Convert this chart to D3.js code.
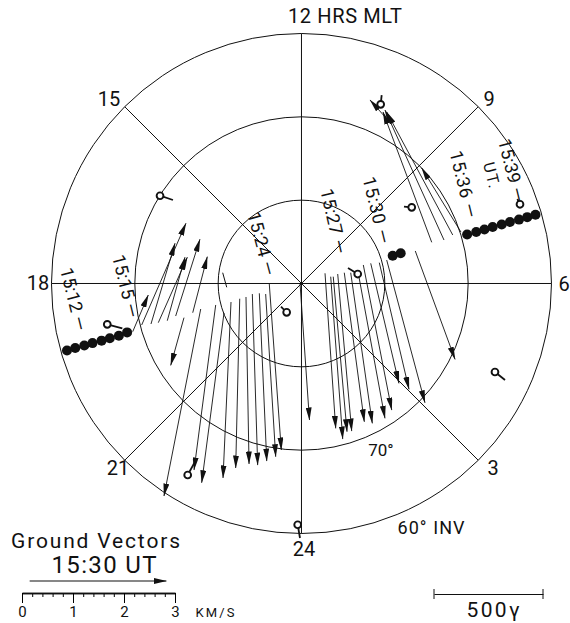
<!DOCTYPE html>
<html>
<head>
<meta charset="utf-8">
<script src="https://cdn.jsdelivr.net/npm/d3@7"></script>
<style>
  body { margin: 0; background: #fff; }
  text { font-family: Roboto, "Liberation Sans", sans-serif; font-weight: 400; fill: #111; }
</style>
</head>
<body>
<div id="d3"></div>
<script>
// all positions in degrees from the pole, x toward 6 MLT, y toward 12 MLT
const rings = [80, 70, 60];
const hours = [12, 15, 18, 21, 24, 3, 6, 9];

// tail x, tail y, tip x, tip y
const duskVectors = [
  [-12.06, -3.16, -16.52, -25.87],
  [-10.24, -2.67, -12.87, -22.71],
  [-9.23, -3.64, -11.94, -24.26],
  [-8.38, -2.31, -9.35, -23.68],
  [-7.32, -1.91, -7.81, -22.47],
  [-6.56, -1.7, -6.19, -21.98],
  [-5.79, -1.34, -5.14, -22.11],
  [-4.94, -1.25, -4.04, -21.62],
  [-4.17, -1.34, -2.95, -21.1],
  [-3.73, -0.12, -2.27, -20.28],
  [-14.09, -4.21, -15.7, -10.0],
  [-20.32, -5.92, -18.43, -1.46],
  [-19.23, -5.1, -13.85, 7.25],
  [-18.1, -4.98, -15.18, 4.82],
  [-17.21, -4.82, -13.69, 3.12],
  [-16.12, -4.58, -13.97, 3.12],
  [-15.1, -4.01, -12.15, 5.31],
  [-13.03, -3.61, -11.26, 3.19],
];

const dawnVectors = [
  [0, 0, 1.15, -16.64],
  [3.04, 1.18, 4.34, -17.65],
  [3.73, 0.77, 5.19, -18.95],
  [4.04, 0.77, 5.71, -18.06],
  [4.58, 1.09, 6.28, -17.98],
  [5.38, 1.25, 7.81, -16.85],
  [6.16, 1.25, 8.78, -17.04],
  [7.08, 1.18, 10.32, -16.43],
  [7.69, 2.19, 11.14, -15.43],
  [8.59, 2.39, 12.02, -12.18],
  [9.63, 2.47, 13.24, -12.91],
  [10.53, 2.79, 15.18, -14.54],
  [14.0, 3.89, 18.83, -9.27],
];

const morningVectors = [
  [16.0, 4.94, 10.08, 20.77],
  [17.49, 5.22, 10.32, 21.01],
  [18.55, 5.83, 10.53, 20.77],
  [19.55, 6.19, 14.78, 13.97],
  [10.45, 20.04, 8.5, 22.23],
];

// vector too small for a head
const shortVectors = [[-9.39, 1.25, -8.9, -0.52]];

// station x, station y, stick end x, stick end y
const stations = [
  [-17.0, 10.6, -15.43, 10.08],
  [-23.41, -5.02, -21.58, -5.5],
  [-1.62, -3.56, -2.31, -2.88],
  [-13.64, -23.32, -12.75, -21.7],
  [7.01, 1.09, 5.83, 1.82],
  [13.57, 9.19, 12.63, 9.27],
  [9.8, 21.7, 9.92, 22.83],
  [26.72, 9.56, 26.4, 10.2],
  [23.68, -10.81, 24.9, -11.78],
  [-0.28, -29.36, 0, -30.97],
];

const satelliteDusk = [
  [-28.3, -8.2], [-27.3, -7.9], [-26.2, -7.6], [-25.2, -7.3],
  [-24.1, -7.0], [-23.1, -6.7], [-22.0, -6.4], [-21.0, -6.0],
];
const satelliteNoon = [[11.26, 3.32], [12.23, 3.61]];
const satelliteDawn = [
  [20.3, 5.9], [21.4, 6.2], [22.4, 6.5], [23.4, 6.8], [24.5, 7.1],
  [25.5, 7.4], [26.6, 7.7], [27.6, 8.0], [28.6, 8.3],
];

const kmTicks = [0, 1, 2, 3];
const kmMinorTicks = d3.range(0, 3.01, 0.2);
const referenceArrow = [0.15, 2.83];

const chartWidth = 570;
const chartHeight = 623;

const svg = d3
  .select("#d3")
  .append("svg")
  .attr("width", chartWidth)
  .attr("height", chartHeight);

const x = d3.scaleLinear().domain([-30, 30]).range([53, 547]);
const y = d3.scaleLinear().domain([-30, 30]).range([530, 36]);
const rScale = d3.scaleLinear().domain([0, 30]).range([0, 250]);
const kmScale = d3.scaleLinear().domain([0, 3]).range([22, 175]);
const gammaScale = d3.scaleLinear().domain([0, 500]).range([434, 543]);

// the scanned grid sits slightly off the plotted origin
const poleX = x(0.18);
const poleY = y(-0.06);

const colat = (lat) => 90 - lat;
const hourAngle = (hour) => ((hour - 12) / 24) * 2 * Math.PI;

svg
  .append("defs")
  .append("marker")
  .attr("id", "head")
  .attr("markerUnits", "userSpaceOnUse")
  .attr("viewBox", "0 -3 13 6")
  .attr("refX", 12.5)
  .attr("refY", 0)
  .attr("markerWidth", 13)
  .attr("markerHeight", 6)
  .attr("orient", "auto")
  .append("path")
  .attr("d", "M0,-3L13,0L0,3Z")
  .attr("fill", "#111");

// rings
svg
  .selectAll("circle.ring")
  .data(rings)
  .enter()
  .append("circle")
  .attr("class", "ring")
  .attr("cx", poleX)
  .attr("cy", poleY)
  .attr("r", (d) => rScale(colat(d)))
  .attr("fill", "none")
  .attr("stroke", "#111")
  .attr("stroke-width", 1);

// spokes
svg
  .selectAll("line.spoke")
  .data(hours)
  .enter()
  .append("line")
  .attr("class", "spoke")
  .attr("x1", poleX)
  .attr("y1", poleY)
  .attr("x2", (d) => poleX - rScale(30) * Math.sin(hourAngle(d)))
  .attr("y2", (d) => poleY - rScale(30) * Math.cos(hourAngle(d)))
  .attr("stroke", "#111")
  .attr("stroke-width", 1);

// vectors
const allVectors = duskVectors.concat(dawnVectors, morningVectors);
svg
  .selectAll("line.vector")
  .data(allVectors)
  .enter()
  .append("line")
  .attr("class", "vector")
  .attr("x1", (d) => x(d[0]))
  .attr("y1", (d) => y(d[1]))
  .attr("x2", (d) => x(d[2]))
  .attr("y2", (d) => y(d[3]))
  .attr("stroke", "#111")
  .attr("stroke-width", 0.9)
  .attr("marker-end", "url(#head)");

svg
  .selectAll("line.short")
  .data(shortVectors)
  .enter()
  .append("line")
  .attr("class", "short")
  .attr("x1", (d) => x(d[0]))
  .attr("y1", (d) => y(d[1]))
  .attr("x2", (d) => x(d[2]))
  .attr("y2", (d) => y(d[3]))
  .attr("stroke", "#111");

// satellite track
svg
  .selectAll("circle.sat")
  .data(satelliteDusk.concat(satelliteNoon, satelliteDawn))
  .enter()
  .append("circle")
  .attr("class", "sat")
  .attr("cx", (d) => x(d[0]))
  .attr("cy", (d) => y(d[1]))
  .attr("r", 5)
  .attr("fill", "#111");

// ground stations
const station = svg.selectAll("g.station").data(stations).enter().append("g");
station
  .append("line")
  .attr("x1", (d) => x(d[0]))
  .attr("y1", (d) => y(d[1]))
  .attr("x2", (d) => x(d[2]))
  .attr("y2", (d) => y(d[3]))
  .attr("stroke", "#111")
  .attr("stroke-width", 1.8);
station
  .append("circle")
  .attr("cx", (d) => x(d[0]))
  .attr("cy", (d) => y(d[1]))
  .attr("r", 3.4)
  .attr("fill", "#fff")
  .attr("stroke", "#111")
  .attr("stroke-width", 1.9);

// labels
function label(txt, px, py, size, rotate, width) {
  const t = svg
    .append("text")
    .attr("x", px)
    .attr("y", py)
    .attr("font-size", size)
    .attr("text-anchor", "middle")
    .attr("dominant-baseline", "central")
    .text(txt);
  if (rotate) t.attr("transform", `rotate(${rotate} ${px} ${py})`);
  if (width) t.attr("textLength", width);
  return t;
}

label("12 HRS MLT", 345, 16, 20, 0, 114);
label("15", 109, 99, 20);
label("9", 489, 99, 20);
label("18", 38, 283, 20);
label("6", 564, 284, 20);
label("21", 118, 468, 20);
label("3", 493, 468, 20);
label("24", 304, 549, 20);
label("70°", 381, 450, 17);
label("60° INV", 431, 527, 18, 0, 67);

label("15:12 —", 74, 299, 18, 76, 64);
label("15:15 —", 126, 286, 18, 76, 64);
label("15:24 —", 262, 243.5, 18, 75, 65);
label("15:27 —", 334, 221, 18, 77, 66);
label("15:30 —", 377, 210, 18, 76, 68);
label("15:36 —", 464, 184, 18, 76, 68);
label("15:39 —", 512, 170, 18, 76, 64);
label("UT.", 491.5, 175, 16, 76, 26);

label("Ground  Vectors", 95.5, 541, 21, 0, 169);
label("15:30 UT", 104, 565, 24, 0, 105);
label("KM/S", 215, 612, 13, 0, 39);
label("500γ", 493, 610, 21, 0, 53);

// km/s scale
svg
  .append("line")
  .attr("x1", kmScale(referenceArrow[0]))
  .attr("x2", kmScale(referenceArrow[1]))
  .attr("y1", 581)
  .attr("y2", 581)
  .attr("stroke", "#111")
  .attr("stroke-width", 1.2)
  .attr("marker-end", "url(#head)");

const kmAxis = svg.append("g").attr("transform", "translate(0,593)");
kmAxis.call(
  d3.axisBottom(kmScale).tickValues(kmMinorTicks).tickSize(4).tickFormat("").tickSizeOuter(0)
);
const kmMajor = svg.append("g").attr("transform", "translate(0,593)");
kmMajor.call(d3.axisBottom(kmScale).tickValues(kmTicks).tickSize(10).tickSizeOuter(0).tickFormat(d3.format("d")));
kmMajor
  .selectAll("text")
  .attr("font-size", 15)
  .attr("font-family", "Roboto")
  .attr("y", 19)
  .attr("dy", "0")
  .attr("dominant-baseline", "central");
svg.selectAll(".domain").attr("stroke", "#111").attr("stroke-width", 1.6);

// 500 gamma scale
const gammaAxis = svg.append("g").attr("transform", "translate(0,594)");
gammaAxis.call(d3.axisBottom(gammaScale).tickValues([]).tickSizeOuter(0));
gammaAxis.select(".domain").attr("stroke", "#111").attr("stroke-width", 1.1);
gammaAxis
  .selectAll("line.cap")
  .data(gammaScale.domain())
  .enter()
  .append("line")
  .attr("class", "cap")
  .attr("x1", (d) => gammaScale(d))
  .attr("x2", (d) => gammaScale(d))
  .attr("y1", -5)
  .attr("y2", 5)
  .attr("stroke", "#111");
</script>
</body>
</html>
